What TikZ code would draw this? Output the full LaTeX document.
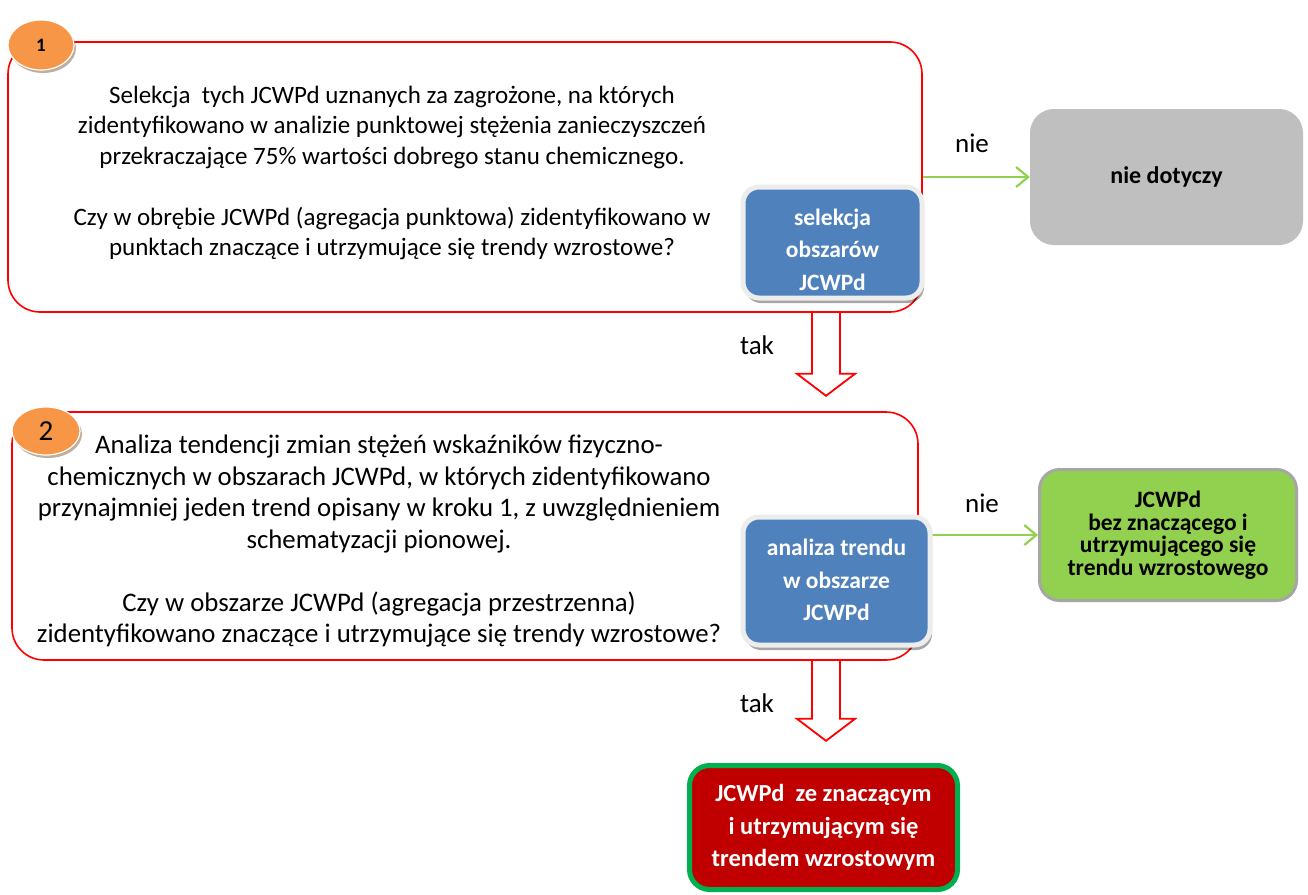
\documentclass[tikz,border=0pt]{standalone}
\usepackage{fontspec}
\setmainfont{Carlito}
\usetikzlibrary{shadows,arrows.meta,calc,shapes.geometric}
\definecolor{boxred}{HTML}{FF0000}
\definecolor{bluefill}{HTML}{4F81BD}
\definecolor{orangefill}{HTML}{F79646}
\definecolor{grayfill}{HTML}{BFBFBF}
\definecolor{greenfill}{HTML}{92D050}
\definecolor{greenborder}{HTML}{00B050}
\definecolor{darkred}{HTML}{C00000}
\definecolor{framegray}{HTML}{EDEDED}
\definecolor{lightgreen}{HTML}{92D050}
\tikzset{
  redbox/.style={draw=boxred, line width=1.6pt, rounded corners=32pt, inner sep=0pt},
  numcircle/.style={ellipse, fill=orangefill, draw=white, line width=1.2pt, inner sep=0pt,
    drop shadow={shadow xshift=2pt, shadow yshift=-3pt, fill=brown!60!black, opacity=0.45}},
  bluebox/.style={fill=bluefill, draw=framegray, line width=5pt, rounded corners=16pt,
    inner sep=0pt,
    drop shadow={shadow xshift=2pt, shadow yshift=-5pt, fill=black, opacity=0.35}},
  bluetext/.style={text=white, font=\bfseries\fontsize{23.5}{32.5}\selectfont, align=center, inner sep=0pt},
  endgray/.style={fill=grayfill, rounded corners=24pt, inner sep=0pt,
    font=\bfseries\fontsize{24}{28}\selectfont},
  endgreen/.style={fill=greenfill, draw=gray!70, line width=3pt, rounded corners=20pt,
    inner sep=0pt, align=center, font=\bfseries\fontsize{23.5}{22.5}\selectfont},
  endred/.style={fill=darkred, draw=greenborder, line width=5pt, rounded corners=20pt,
    inner sep=0pt, align=center, text=white, font=\bfseries\fontsize{24.5}{32.5}\selectfont},
  yesno/.style={font=\fontsize{27}{30}\selectfont},
  greenarrow/.style={draw=lightgreen, line width=2.2pt, -{Straight Barb[length=12pt,width=20pt]}},
  blockarrow/.style={draw=boxred, line width=1.8pt, line join=miter},
}
\begin{document}
\begin{tikzpicture}[x=1pt,y=-1pt]
\useasboundingbox[fill=white] (0,0) rectangle (1308,894);

% main boxes
\node[redbox, minimum width=914pt, minimum height=270pt] (b1) at (465,177) {};
\node[redbox, minimum width=906pt, minimum height=248pt] (b2) at (465,536) {};

% texts
\node[align=center, font=\fontsize{25}{30.5}\selectfont] (t1) at (392,173)
  {Selekcja\ \ tych JCWPd uznanych za zagrożone, na których\\
   zidentyfikowano w analizie punktowej stężenia zanieczyszczeń\\
   przekraczające 75\% wartości dobrego stanu chemicznego.\\[30.5pt]
   Czy w obrębie JCWPd (agregacja punktowa) zidentyfikowano w\\
   punktach znaczące i utrzymujące się trendy wzrostowe?};
\node[align=center, font=\fontsize{26.8}{31.5}\selectfont] (t2) at (379,541)
  {Analiza tendencji zmian stężeń wskaźników fizyczno-\\
   chemicznych w obszarach JCWPd, w których zidentyfikowano\\
   przynajmniej jeden trend opisany w kroku 1, z uwzględnieniem\\
   schematyzacji pionowej.\\[31.5pt]
   Czy w obszarze JCWPd (agregacja przestrzenna)\\
   zidentyfikowano znaczące i utrzymujące się trendy wzrostowe?};

% number circles
\node[numcircle, minimum width=66pt, minimum height=50pt, font=\bfseries\fontsize{19}{20}\selectfont] (c1) at (41,45) {1};
\node[numcircle, minimum width=68pt, minimum height=48pt, font=\fontsize{29}{30}\selectfont] (c2) at (46,431) {2};

% end boxes
\node[endgray, minimum width=273pt, minimum height=136pt] (g1) at (1166.5,177) {nie dotyczy};
\node[endgreen, minimum width=257pt, minimum height=131pt] (g2) at (1168,535)
  {JCWPd\\bez znaczącego i\\utrzymującego się\\trendu wzrostowego};
\node[endred, minimum width=268pt, minimum height=124pt] (r1) at (823.5,827.5)
  {JCWPd\ \ ze znaczącym\\i utrzymującym się\\trendem wzrostowym};

% green "nie" connectors
\draw[greenarrow] (b1.east) -- (b1.east -| g1.west);
\draw[greenarrow] (b2.east |- g2.west) -- (g2.west);
\node[yesno] (n1) at (972,143) {nie};
\node[yesno] (n2) at (982,503) {nie};

% blue boxes
\node[bluebox, minimum width=179pt, minimum height=111pt] (s1) at (832.5,242.5) {};
\node[bluetext] (s1t) at ($(s1.center)+(0,7)$) {selekcja\\obszarów\\JCWPd};
\node[bluebox, minimum width=187pt, minimum height=128pt] (s2) at (836.5,581) {};
\node[bluetext] (s2t) at ($(s2.center)+(0,-1)$) {analiza trendu\\w obszarze\\JCWPd};

% block arrows "tak"
\coordinate (a1) at (b1.south -| 826,0);
\coordinate (a2) at (b2.south -| 826,0);
\draw[blockarrow] ($(a1)+(-14,0)$) -- ++(0,61) -- ++(-15,0) -- ($(a1)+(0,83)$)
  -- ($(a1)+(29,61)$) -- ++(-15,0) -- ($(a1)+(14,0)$);
\draw[blockarrow] ($(a2)+(-14,0)$) -- ++(0,58) -- ++(-15,0) -- ($(a2)+(0,80)$)
  -- ($(a2)+(29,58)$) -- ++(-15,0) -- ($(a2)+(14,0)$);
\node[yesno] (k1) at (757,345) {tak};
\node[yesno] (k2) at (757,703) {tak};
\end{tikzpicture}
\end{document}
